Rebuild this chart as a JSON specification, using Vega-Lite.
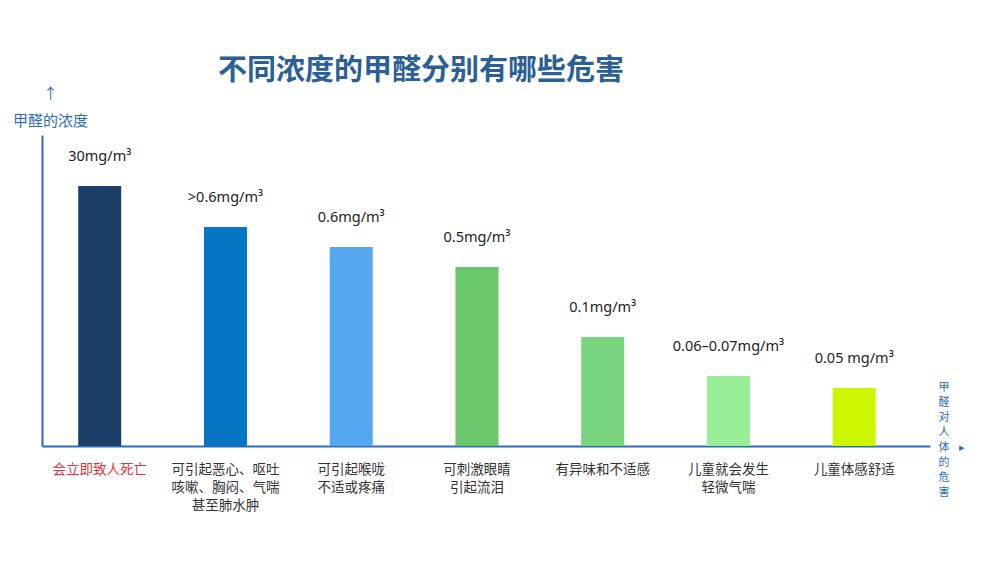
{
  "$schema": "https://vega.github.io/schema/vega-lite/v6.json",
  "autosize": "none",
  "width": 888,
  "height": 311,
  "padding": {"left": 42, "top": 135, "right": 70, "bottom": 125},
  "background": "white",
  "config": {"view": {"stroke": null}, "font": "Noto Sans CJK SC"},
  "title": {
    "text": "不同浓度的甲醛分别有哪些危害",
    "fontSize": 29,
    "fontWeight": "bold",
    "color": "#2b5f96",
    "font": "Noto Sans CJK SC",
    "anchor": "start",
    "frame": "group",
    "dx": 176,
    "offset": 0
  },
  "data": {
    "values": [
      {"hazard": "会立即致人死亡", "h": 260, "label": "30mg/m³"},
      {"hazard": "可引起恶心、呕吐|咳嗽、胸闷、气喘|甚至肺水肿", "h": 219, "label": ">0.6mg/m³"},
      {"hazard": "可引起喉咙|不适或疼痛", "h": 199, "label": "0.6mg/m³"},
      {"hazard": "可刺激眼睛|引起流泪", "h": 179, "label": "0.5mg/m³"},
      {"hazard": "有异味和不适感", "h": 109, "label": "0.1mg/m³"},
      {"hazard": "儿童就会发生|轻微气喘", "h": 70, "label": "0.06–0.07mg/m³"},
      {"hazard": "儿童体感舒适", "h": 58, "label": "0.05 mg/m³"}
    ]
  },
  "encoding": {
    "x": {
      "field": "hazard",
      "type": "nominal",
      "sort": null,
      "scale": {"paddingInner": 0.658, "paddingOuter": 0.36, "align": 0.4},
      "axis": {
        "title": ["甲", "醛", "对", "人", "体\u00a0\u00a0\u00a0\u00a0▸", "的", "危", "害"],
        "titleAngle": 0,
        "titleAlign": "left",
        "titleBaseline": "top",
        "titleX": 896,
        "titleY": -65,
        "titleFontSize": 11,
        "titleLineHeight": 15,
        "titleFontWeight": "normal",
        "titleColor": "#2d6db5",
        "titleFont": "Noto Sans CJK SC",
        "domainColor": "#2d6db5",
        "domainWidth": 2,
        "ticks": false,
        "labelAngle": 0,
        "labelExpr": "split(datum.label, '|')",
        "labelFontSize": 13.5,
        "labelLineHeight": 18,
        "labelPadding": 16,
        "labelFont": "Noto Sans CJK SC",
        "labelBaseline": "top",
        "labelColor": {"condition": {"test": "datum.value === '会立即致人死亡'", "value": "#e0333c"}, "value": "#333333"}
      }
    },
    "y": {
      "field": "h",
      "type": "quantitative",
      "scale": {"domain": [0, 311], "nice": false},
      "axis": {
        "title": ["↑\u00a0\u00a0\u00a0\u00a0", "甲醛的浓度"],
        "titleAngle": 0,
        "titleAlign": "center",
        "titleBaseline": "bottom",
        "titleX": 8,
        "titleY": -34,
        "titleFontSize": 15,
        "titleLineHeight": 27,
        "titleFontWeight": "normal",
        "titleColor": "#2d6db5",
        "titleFont": "Noto Sans CJK SC",
        "domainColor": "#2d6db5",
        "domainWidth": 2,
        "ticks": false,
        "labels": false,
        "grid": false
      }
    }
  },
  "layer": [
    {
      "mark": {"type": "bar"},
      "encoding": {
        "color": {
          "field": "hazard",
          "type": "nominal",
          "sort": null,
          "legend": null,
          "scale": {
            "domain": ["会立即致人死亡", "可引起恶心、呕吐|咳嗽、胸闷、气喘|甚至肺水肿", "可引起喉咙|不适或疼痛", "可刺激眼睛|引起流泪", "有异味和不适感", "儿童就会发生|轻微气喘", "儿童体感舒适"],
            "range": ["#1b3f66", "#0875c4", "#55a7ef", "#6ac66a", "#7ad67e", "#98ef98", "#ccf500"]
          }
        }
      }
    },
    {
      "mark": {"type": "text", "dy": -29, "fontSize": 14.5, "font": "Noto Sans", "color": "#222222"},
      "encoding": {"text": {"field": "label"}}
    }
  ]
}
